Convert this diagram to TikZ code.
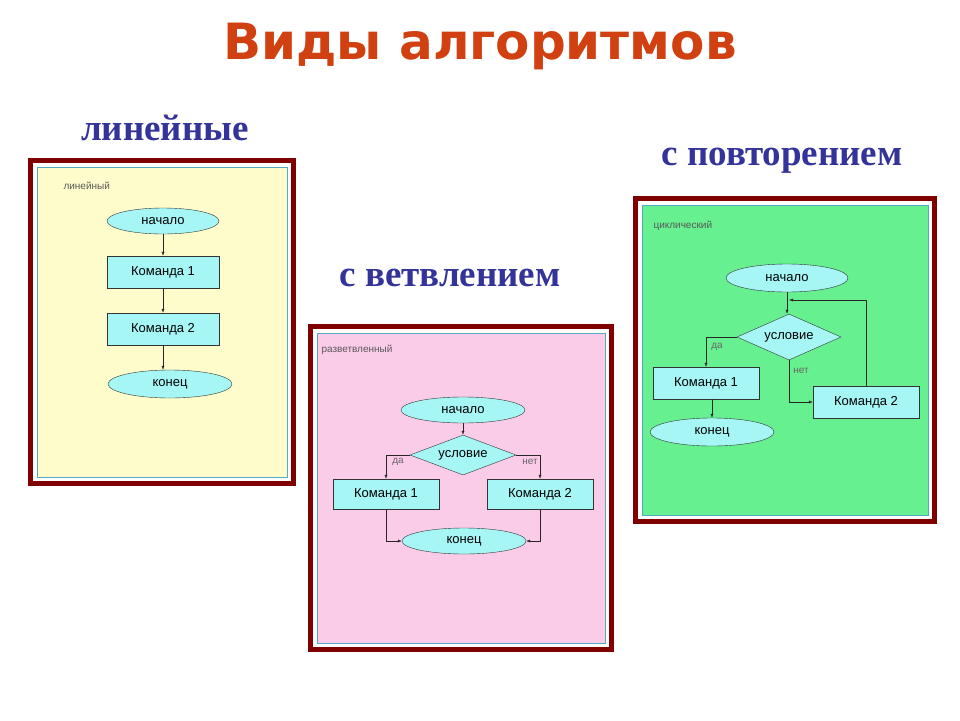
\documentclass[tikz,border=0pt]{standalone}
\usepackage{fontspec}
\setmainfont{Liberation Sans}
\newfontfamily\serifb{Liberation Serif}
\newfontfamily\titlef{DejaVu Sans}
\usetikzlibrary{shapes.geometric,arrows.meta}
\definecolor{frame}{HTML}{800000}
\definecolor{boxc}{HTML}{A6F6F6}
\definecolor{ttl}{HTML}{333399}
\definecolor{mainc}{HTML}{D04010}
\definecolor{greenf}{HTML}{66F090}
\tikzset{
 x=1pt,y=-1pt,
 panel/.style={draw=frame,line width=4pt},
 inner/.style={draw=cyan!60!gray,line width=1pt},
 term/.style={ellipse,draw=black!80,fill=boxc,inner sep=0,font=\fontsize{13}{15}\selectfont},
 cmd/.style={rectangle,draw=black!80,fill=boxc,inner sep=0,font=\fontsize{13}{15}\selectfont},
 cond/.style={diamond,draw=black!80,fill=boxc,inner sep=0,aspect=2.4,font=\fontsize{13}{15}\selectfont},
 con/.style={draw=black!85,-{Latex[length=4pt,width=3pt]}},
 lbl/.style={font=\fontsize{10}{11}\selectfont,text=black!60},
 ptitle/.style={font=\fontsize{10}{12}\selectfont,text=black!65,anchor=west},
 btitle/.style={font=\serifb\bfseries\fontsize{37}{42}\selectfont,text=ttl}
}
\begin{document}
\begin{tikzpicture}
\useasboundingbox[fill=white] (0,0) rectangle (960,720);
\node[font=\titlef\bfseries\fontsize{50}{56}\selectfont,text=mainc] (main) at (480,46) {Виды алгоритмов};
\node[btitle] (ta) at (165,128) {линейные};
\node[btitle] (tb) at (450,278) {с ветвлением};
\node[btitle] (tc) at (782,161) {с повторением};
% left panel
\fill[frame] (28,158) rectangle (296,486);
\fill[white] (33,163) rectangle (291,481);
\filldraw[inner,fill=yellow!20] (37,167) rectangle (287,477);
\node[ptitle] (l0) at (60,186) {линейный};
\node[term,minimum width=112,minimum height=26] (l1) at (163,221) {начало};
\node[cmd,minimum width=112,minimum height=32] (l2) at (163,272) {Команда 1};
\node[cmd,minimum width=112,minimum height=32] (l3) at (163,329) {Команда 2};
\node[term,minimum width=124,minimum height=28] (l4) at (170,384) {конец};
\draw[con] (l1) -- (l2);
\draw[con] (l2) -- (l3);
\draw[con] (l3.south) -- (l3.south|-l4.north);
% middle panel
\fill[frame] (308,324) rectangle (614,652);
\fill[white] (313,329) rectangle (609,647);
\filldraw[inner,fill=magenta!20] (317,333) rectangle (605,643);
\node[ptitle] (m0) at (318,350) {разветвленный};
\node[term,minimum width=124,minimum height=26] (m1) at (463,410) {начало};
\node[cond,minimum width=106,minimum height=40] (m2) at (463,455) {условие};
\node[cmd,minimum width=106,minimum height=30] (m3) at (386,494) {Команда 1};
\node[cmd,minimum width=106,minimum height=30] (m4) at (540,494) {Команда 2};
\node[term,minimum width=124,minimum height=26] (m5) at (464,541) {конец};
\draw[con] (m1) -- (m2);
\draw[con] (m2.west) -| (m3.north);
\draw[con] (m2.east) -| (m4.north);
\draw[con] (m3.south) |- (m5.west);
\draw[con] (m4.south) |- (m5.east);
\node[lbl] (m6) at (398,462) {да};
\node[lbl] (m7) at (530,462) {нет};
% right panel
\fill[frame] (633,196) rectangle (937,524);
\fill[white] (638,201) rectangle (932,519);
\filldraw[inner,fill=greenf] (642,205) rectangle (928,515);
\node[ptitle] (r0) at (650,226) {циклический};
\node[term,minimum width=122,minimum height=28] (r1) at (787,278) {начало};
\node[cond,minimum width=104,minimum height=46] (r2) at (789,337) {условие};
\node[cmd,minimum width=106,minimum height=32] (r3) at (706,383) {Команда 1};
\node[cmd,minimum width=106,minimum height=32] (r4) at (866,402) {Команда 2};
\node[term,minimum width=124,minimum height=28] (r5) at (712,432) {конец};
\coordinate (rj) at (789,300);
\draw[con] (r1.south) -- (r1.south|-r2.north);
\draw[con] (r2.west) -| (r3.north);
\draw[con] (r2.south) |- (r4.west);
\draw[con] (r4.north) |- (rj);
\draw[con] (r3.south-|r5.north) -- (r5.north);
\node[lbl] (r6) at (717,347) {да};
\node[lbl] (r7) at (801,371) {нет};
\end{tikzpicture}
\end{document}
